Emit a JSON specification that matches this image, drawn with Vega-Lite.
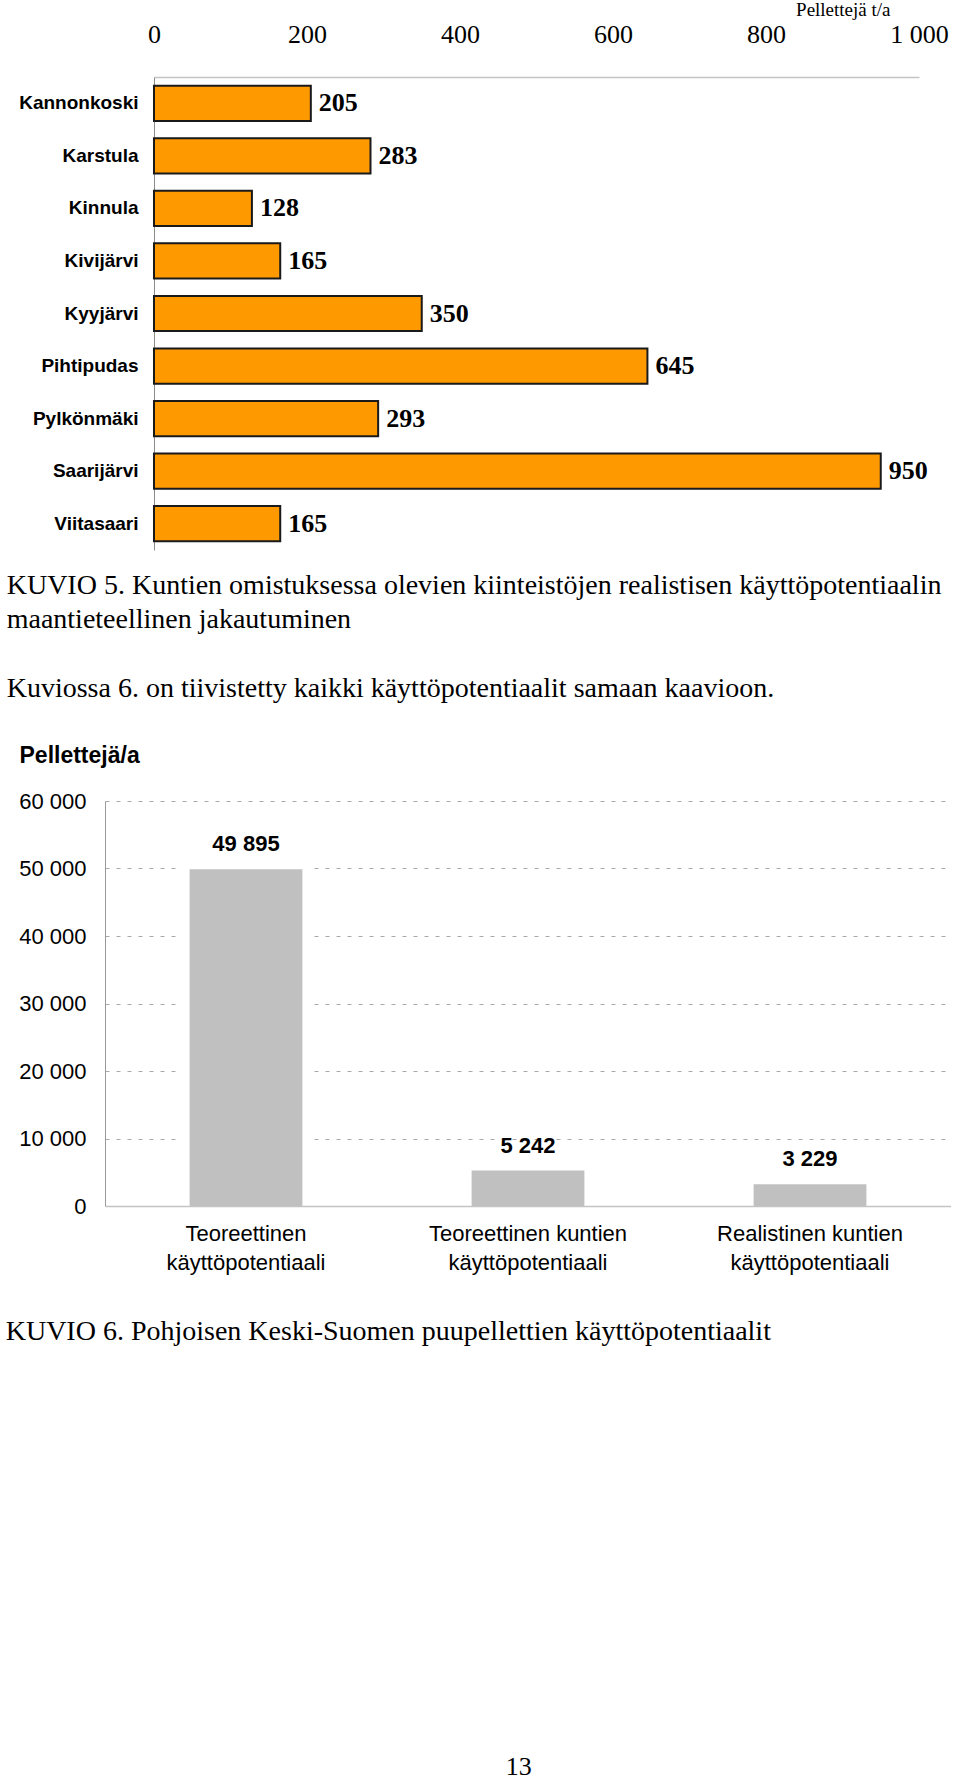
{
  "$schema": "https://vega.github.io/schema/vega-lite/v6.json",
  "background": "white",
  "padding": {"left": 5, "top": 0, "right": 0, "bottom": 0},
  "config": {
    "locale": {"number": {"decimal": ",", "thousands": " ", "grouping": [3], "currency": ["", " €"]}},
    "view": {"stroke": null},
    "axis": {"grid": false, "ticks": false}
  },
  "spacing": 41,
  "title": {"text": "13", "orient": "bottom", "anchor": "start", "frame": "bounds", "dx": 500, "offset": 408, "font": "Liberation Serif", "fontSize": 26, "fontWeight": "normal", "color": "black"},
  "vconcat": [
    {
      "width": 814,
      "height": 473,
      "data": {"values": [
        {"kunta": "Kannonkoski", "pelletit": 205},
        {"kunta": "Karstula", "pelletit": 283},
        {"kunta": "Kinnula", "pelletit": 128},
        {"kunta": "Kivijärvi", "pelletit": 165},
        {"kunta": "Kyyjärvi", "pelletit": 350},
        {"kunta": "Pihtipudas", "pelletit": 645},
        {"kunta": "Pylkönmäki", "pelletit": 293},
        {"kunta": "Saarijärvi", "pelletit": 950},
        {"kunta": "Viitasaari", "pelletit": 165}
      ]},
      "title": {
        "text": ["KUVIO 5. Kuntien omistuksessa olevien kiinteistöjen realistisen käyttöpotentiaalin", "maantieteellinen jakautuminen"],
        "subtitle": "Kuviossa 6. on tiivistetty kaikki käyttöpotentiaalit samaan kaavioon.",
        "orient": "bottom", "anchor": "start", "frame": "bounds", "dx": -12, "offset": 22,
        "font": "Liberation Serif", "fontSize": 28, "fontWeight": "normal", "lineHeight": 34, "color": "black",
        "subtitleFont": "Liberation Serif", "subtitleFontSize": 28, "subtitleFontWeight": "normal", "subtitleColor": "black", "subtitleLineHeight": 34, "subtitlePadding": 41
      },
      "encoding": {
        "y": {
          "field": "kunta", "type": "nominal", "sort": null,
          "scale": {"paddingInner": 0.33, "paddingOuter": 0.165},
          "axis": {"title": null, "offset": -49, "labelFont": "Liberation Sans", "labelFontSize": 19, "labelFontWeight": "bold", "labelColor": "black", "labelPadding": 16, "domainColor": "#8c8c8c", "domainWidth": 1, "ticks": false}
        },
        "x": {
          "field": "pelletit", "type": "quantitative",
          "scale": {"domain": [-64.05, 1000], "nice": false, "zero": false},
          "axis": {
            "orient": "top", "values": [0, 200, 400, 600, 800, 1000], "format": ",d",
            "labelFont": "Liberation Serif", "labelFontSize": 26, "labelColor": "black", "labelPadding": 30, "labelFlush": false, "labelOverlap": false,
            "ticks": false, "grid": false, "domainColor": "#c4c4c4", "domainWidth": 1.5, "domainDash": [765, 49], "domainDashOffset": 765,
            "title": "Pellettejä t/a", "titleFont": "Liberation Serif", "titleFontSize": 19, "titleFontWeight": "normal", "titleColor": "black",
            "titleAlign": "right", "titleX": 785, "titleY": -68, "titleBaseline": "middle"
          }
        }
      },
      "layer": [
        {"mark": {"type": "bar", "fill": "#FF9900", "stroke": "#1a1a1a", "strokeWidth": 2}},
        {"mark": {"type": "text", "align": "left", "baseline": "middle", "dx": 8, "font": "Liberation Serif", "fontSize": 26, "fontWeight": "bold", "color": "black"},
         "encoding": {"text": {"field": "pelletit", "type": "quantitative"}}}
      ]
    },
    {
      "width": 846,
      "height": 405,
      "data": {"values": [
        {"potentiaali": "Teoreettinen käyttöpotentiaali", "pelletit": 49895},
        {"potentiaali": "Teoreettinen kuntien käyttöpotentiaali", "pelletit": 5242},
        {"potentiaali": "Realistinen kuntien käyttöpotentiaali", "pelletit": 3229}
      ]},
      "title": {
        "text": "KUVIO 6. Pohjoisen Keski-Suomen puupellettien käyttöpotentiaalit",
        "orient": "bottom", "anchor": "start", "frame": "bounds", "dx": -13, "offset": 45,
        "font": "Liberation Serif", "fontSize": 28, "fontWeight": "normal", "color": "black"
      },
      "encoding": {
        "x": {
          "field": "potentiaali", "type": "nominal", "sort": null,
          "scale": {"paddingInner": 0.6, "paddingOuter": 0.3},
          "axis": {"title": null, "labelAngle": 0, "labelLimit": 0, "labelExpr": "[replace(datum.label, ' käyttöpotentiaali', ''), 'käyttöpotentiaali']",
                   "labelFont": "Liberation Sans", "labelFontSize": 22, "labelColor": "black", "labelPadding": 17, "labelLineHeight": 29,
                   "domainColor": "#c4c4c4", "domainWidth": 1.5, "ticks": false, "zindex": 1}
        },
        "y": {
          "field": "pelletit", "type": "quantitative",
          "scale": {"domain": [0, 60000], "nice": false},
          "axis": {
            "values": [0, 10000, 20000, 30000, 40000, 50000, 60000], "format": ",d",
            "grid": true, "gridDash": [4, 7], "gridColor": "#a8a8a8", "gridWidth": 1,
            "domainColor": "#9a9a9a", "ticks": false,
            "labelFont": "Liberation Sans", "labelFontSize": 22, "labelColor": "black", "labelPadding": 19,
            "title": "Pellettejä/a", "titleAngle": 0, "titleAlign": "left", "titleBaseline": "middle", "titleX": -86, "titleY": -46,
            "titleFont": "Liberation Sans", "titleFontSize": 23, "titleFontWeight": "bold", "titleColor": "black"
          }
        }
      },
      "layer": [
        {"mark": {"type": "bar", "fill": "white", "stroke": "white", "strokeWidth": 22}},
        {"mark": {"type": "bar", "fill": "#C0C0C0"}},
        {"mark": {"type": "text", "baseline": "middle", "dy": -25, "font": "Liberation Sans", "fontSize": 22, "fontWeight": "bold", "color": "black"},
         "encoding": {"text": {"field": "pelletit", "type": "quantitative", "format": ",d"}}}
      ]
    }
  ]
}
